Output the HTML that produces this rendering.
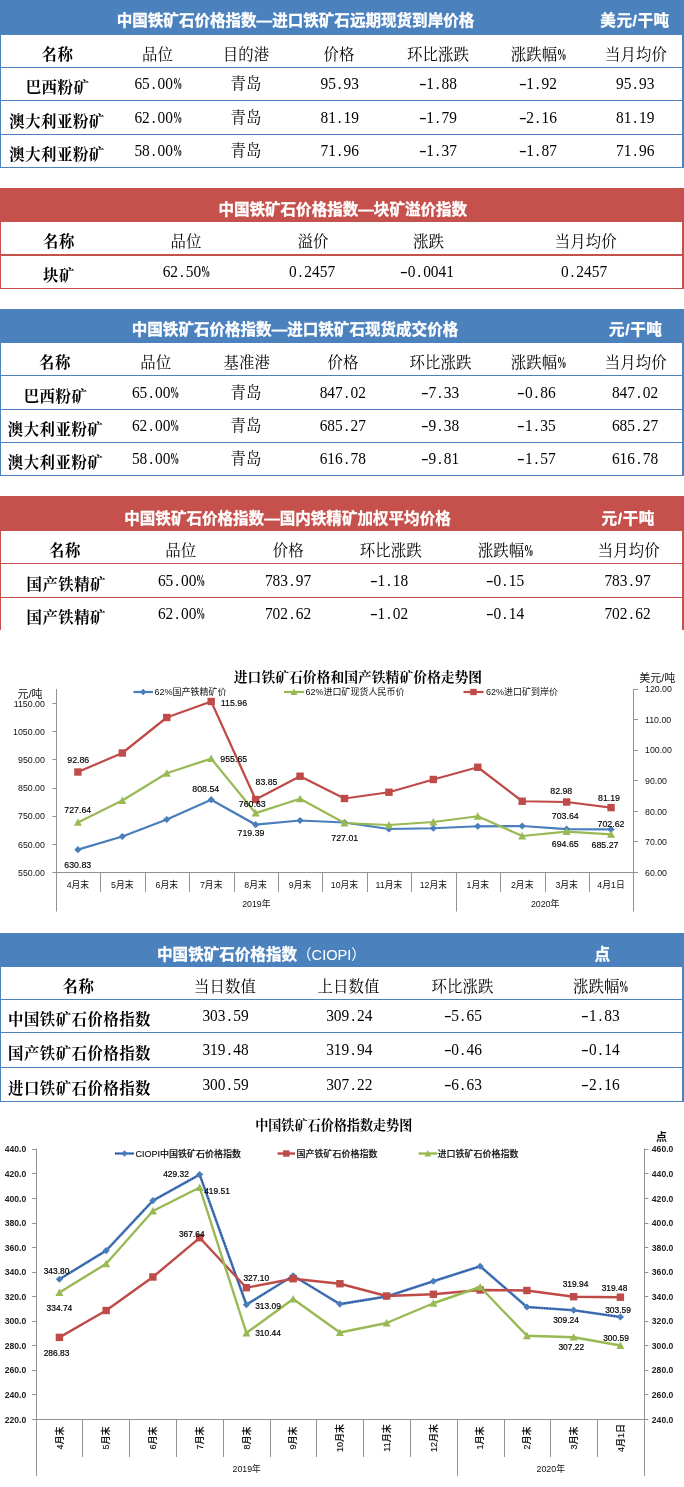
<!DOCTYPE html>
<html lang="zh-CN"><head><meta charset="utf-8"><title>中国铁矿石价格指数</title>
<style>
html,body{margin:0;padding:0;background:#fff}
body{width:684px;height:1487px;position:relative;overflow:hidden}
.hd{position:absolute;left:0;width:684px}
.bl{position:absolute;left:0;width:1px}
.br{position:absolute;left:682px;width:2px}
.hl{position:absolute;left:0;width:684px}
.t{position:absolute;height:24px;line-height:24px;text-align:center;white-space:nowrap;color:#000}
.h{font-family:"Liberation Sans","Noto Sans CJK SC",sans-serif;font-weight:bold;font-size:15.55px;color:#fff;-webkit-text-stroke:0.3px #fff}
.u{letter-spacing:0.6px}
.ci{font-weight:normal;font-size:14.6px;-webkit-text-stroke:0}
.k{font-family:"Liberation Serif","Noto Serif CJK SC",serif;font-size:15.4px;letter-spacing:0.1px}
.kb{font-family:"Liberation Serif","Noto Serif CJK SC",serif;font-size:15.4px;font-weight:bold;letter-spacing:0.5px}
.n{font-family:"Liberation Serif","Noto Serif CJK SC",serif;font-size:15.4px;transform:scaleY(1.14)}
.n i{font-style:normal;display:inline-block;width:7.7px;text-align:center}
.k i.c2{font-style:normal;display:inline-block;width:8px;font-weight:bold;transform:scale(0.62,1.1);transform-origin:0 60%}
.n i.m{transform:scaleX(1.5)}
.n i.c{font-weight:bold;transform:scaleX(0.6);transform-origin:0 50%;text-align:left}
svg{position:absolute;left:0;top:0}
svg text{font-family:"Liberation Sans","Noto Sans CJK SC",sans-serif;fill:#111}
.a1{font-size:8.8px}
.d1{font-size:8.8px;fill:#000;stroke:#000;stroke-width:0.15px}
.u1{font-size:11px}
.lg{font-size:9px}
.ti1{font-family:"Liberation Serif","Noto Serif CJK SC",serif;font-weight:bold;font-size:13.8px;fill:#000}
.ti2{font-family:"Liberation Serif","Noto Serif CJK SC",serif;font-weight:bold;font-size:13.1px;fill:#000}
.a2{font-size:8.6px;font-weight:bold;fill:#222}
.a2r{font-size:9px;font-weight:500;fill:#111;stroke:#111;stroke-width:0.15px}
.d2{font-size:8.4px;fill:#000;stroke:#000;stroke-width:0.2px}
.lg2{font-size:9px;font-weight:500;fill:#111;stroke:#111;stroke-width:0.15px}
.u2{font-size:11px;font-weight:bold}
</style></head>
<body>
<div class="hd" style="top:0px;height:35px;background:#4b82be"></div>
<div class="bl" style="top:35px;height:132px;background:#4b82be"></div>
<div class="br" style="top:35px;height:132px;background:#4b82be"></div>
<div class="hl" style="top:67px;height:1px;background:#4b82be"></div>
<div class="hl" style="top:100px;height:1px;background:#4b82be"></div>
<div class="hl" style="top:134px;height:1px;background:#4b82be"></div>
<div class="hl" style="top:167px;height:1px;background:#4b82be"></div>
<div class="t h" style="left:45.50px;top:9.40px;width:500px">中国铁矿石价格指数—进口铁矿石远期现货到岸价格</div>
<div class="t h u" style="left:555.00px;top:9.40px;width:160px">美元/干吨</div>
<div class="t kb" style="left:-62.50px;top:42.60px;width:240px">名称</div>
<div class="t k" style="left:37.50px;top:42.60px;width:240px">品位</div>
<div class="t k" style="left:126.00px;top:42.60px;width:240px">目的港</div>
<div class="t k" style="left:219.00px;top:42.60px;width:240px">价格</div>
<div class="t k" style="left:318.00px;top:42.60px;width:240px">环比涨跌</div>
<div class="t k" style="left:418.00px;top:42.60px;width:240px">涨跌幅<i class="c2">%</i></div>
<div class="t k" style="left:516.00px;top:42.60px;width:240px">当月均价</div>
<div class="t kb" style="left:-62.50px;top:76.40px;width:240px">巴西粉矿</div>
<div class="t n" style="left:37.50px;top:71.40px;width:240px">65<i class="p">.</i>00<i class="c">%</i></div>
<div class="t k" style="left:126.00px;top:72.20px;width:240px">青岛</div>
<div class="t n" style="left:219.75px;top:71.40px;width:240px">95<i class="p">.</i>93</div>
<div class="t n" style="left:317.75px;top:71.40px;width:240px"><i class="m">-</i>1<i class="p">.</i>88</div>
<div class="t n" style="left:417.75px;top:71.40px;width:240px"><i class="m">-</i>1<i class="p">.</i>92</div>
<div class="t n" style="left:515.25px;top:71.40px;width:240px">95<i class="p">.</i>93</div>
<div class="t kb" style="left:-63.00px;top:109.90px;width:240px">澳大利亚粉矿</div>
<div class="t n" style="left:37.50px;top:104.90px;width:240px">62<i class="p">.</i>00<i class="c">%</i></div>
<div class="t k" style="left:126.00px;top:105.70px;width:240px">青岛</div>
<div class="t n" style="left:219.75px;top:104.90px;width:240px">81<i class="p">.</i>19</div>
<div class="t n" style="left:317.75px;top:104.90px;width:240px"><i class="m">-</i>1<i class="p">.</i>79</div>
<div class="t n" style="left:417.75px;top:104.90px;width:240px"><i class="m">-</i>2<i class="p">.</i>16</div>
<div class="t n" style="left:515.25px;top:104.90px;width:240px">81<i class="p">.</i>19</div>
<div class="t kb" style="left:-63.00px;top:143.40px;width:240px">澳大利亚粉矿</div>
<div class="t n" style="left:37.50px;top:138.40px;width:240px">58<i class="p">.</i>00<i class="c">%</i></div>
<div class="t k" style="left:126.00px;top:139.20px;width:240px">青岛</div>
<div class="t n" style="left:219.75px;top:138.40px;width:240px">71<i class="p">.</i>96</div>
<div class="t n" style="left:317.75px;top:138.40px;width:240px"><i class="m">-</i>1<i class="p">.</i>37</div>
<div class="t n" style="left:417.75px;top:138.40px;width:240px"><i class="m">-</i>1<i class="p">.</i>87</div>
<div class="t n" style="left:515.25px;top:138.40px;width:240px">71<i class="p">.</i>96</div>
<div class="hd" style="top:188px;height:34px;background:#c5504c"></div>
<div class="bl" style="top:222px;height:66px;background:#c5504c"></div>
<div class="br" style="top:222px;height:66px;background:#c5504c"></div>
<div class="hl" style="top:254px;height:2px;background:#c5504c"></div>
<div class="hl" style="top:288px;height:1px;background:#c5504c"></div>
<div class="t h" style="left:92.75px;top:198.30px;width:500px">中国铁矿石价格指数—块矿溢价指数</div>
<div class="t h u" style="left:-80.00px;top:198.30px;width:160px"></div>
<div class="t kb" style="left:-61.00px;top:229.60px;width:240px">名称</div>
<div class="t k" style="left:66.00px;top:229.60px;width:240px">品位</div>
<div class="t k" style="left:193.00px;top:229.60px;width:240px">溢价</div>
<div class="t k" style="left:308.50px;top:229.60px;width:240px">涨跌</div>
<div class="t k" style="left:465.75px;top:229.60px;width:240px">当月均价</div>
<div class="t kb" style="left:-61.00px;top:264.40px;width:240px">块矿</div>
<div class="t n" style="left:65.75px;top:259.40px;width:240px">62<i class="p">.</i>50<i class="c">%</i></div>
<div class="t n" style="left:192.00px;top:259.40px;width:240px">0<i class="p">.</i>2457</div>
<div class="t n" style="left:307.00px;top:259.40px;width:240px"><i class="m">-</i>0<i class="p">.</i>0041</div>
<div class="t n" style="left:464.00px;top:259.40px;width:240px">0<i class="p">.</i>2457</div>
<div class="hd" style="top:309px;height:34px;background:#4b82be"></div>
<div class="bl" style="top:343px;height:132px;background:#4b82be"></div>
<div class="br" style="top:343px;height:132px;background:#4b82be"></div>
<div class="hl" style="top:375px;height:1px;background:#4b82be"></div>
<div class="hl" style="top:409px;height:1px;background:#4b82be"></div>
<div class="hl" style="top:442px;height:1px;background:#4b82be"></div>
<div class="hl" style="top:475px;height:1px;background:#4b82be"></div>
<div class="t h" style="left:45.00px;top:318.00px;width:500px">中国铁矿石价格指数—进口铁矿石现货成交价格</div>
<div class="t h u" style="left:555.75px;top:318.00px;width:160px">元/干吨</div>
<div class="t kb" style="left:-65.00px;top:350.60px;width:240px">名称</div>
<div class="t k" style="left:35.75px;top:350.60px;width:240px">品位</div>
<div class="t k" style="left:126.75px;top:350.60px;width:240px">基准港</div>
<div class="t k" style="left:223.00px;top:350.60px;width:240px">价格</div>
<div class="t k" style="left:320.50px;top:350.60px;width:240px">环比涨跌</div>
<div class="t k" style="left:418.00px;top:350.60px;width:240px">涨跌幅<i class="c2">%</i></div>
<div class="t k" style="left:515.75px;top:350.60px;width:240px">当月均价</div>
<div class="t kb" style="left:-64.50px;top:384.90px;width:240px">巴西粉矿</div>
<div class="t n" style="left:35.00px;top:379.90px;width:240px">65<i class="p">.</i>00<i class="c">%</i></div>
<div class="t k" style="left:126.00px;top:380.70px;width:240px">青岛</div>
<div class="t n" style="left:222.75px;top:379.90px;width:240px">847<i class="p">.</i>02</div>
<div class="t n" style="left:320.00px;top:379.90px;width:240px"><i class="m">-</i>7<i class="p">.</i>33</div>
<div class="t n" style="left:416.50px;top:379.90px;width:240px"><i class="m">-</i>0<i class="p">.</i>86</div>
<div class="t n" style="left:515.00px;top:379.90px;width:240px">847<i class="p">.</i>02</div>
<div class="t kb" style="left:-64.50px;top:418.40px;width:240px">澳大利亚粉矿</div>
<div class="t n" style="left:35.00px;top:413.40px;width:240px">62<i class="p">.</i>00<i class="c">%</i></div>
<div class="t k" style="left:126.00px;top:414.20px;width:240px">青岛</div>
<div class="t n" style="left:222.75px;top:413.40px;width:240px">685<i class="p">.</i>27</div>
<div class="t n" style="left:320.00px;top:413.40px;width:240px"><i class="m">-</i>9<i class="p">.</i>38</div>
<div class="t n" style="left:416.50px;top:413.40px;width:240px"><i class="m">-</i>1<i class="p">.</i>35</div>
<div class="t n" style="left:515.00px;top:413.40px;width:240px">685<i class="p">.</i>27</div>
<div class="t kb" style="left:-64.50px;top:451.40px;width:240px">澳大利亚粉矿</div>
<div class="t n" style="left:35.00px;top:446.40px;width:240px">58<i class="p">.</i>00<i class="c">%</i></div>
<div class="t k" style="left:126.00px;top:447.20px;width:240px">青岛</div>
<div class="t n" style="left:222.75px;top:446.40px;width:240px">616<i class="p">.</i>78</div>
<div class="t n" style="left:320.00px;top:446.40px;width:240px"><i class="m">-</i>9<i class="p">.</i>81</div>
<div class="t n" style="left:416.50px;top:446.40px;width:240px"><i class="m">-</i>1<i class="p">.</i>57</div>
<div class="t n" style="left:515.00px;top:446.40px;width:240px">616<i class="p">.</i>78</div>
<div class="hd" style="top:496px;height:35px;background:#c5504c"></div>
<div class="bl" style="top:531px;height:99px;background:#c5504c"></div>
<div class="br" style="top:531px;height:99px;background:#c5504c"></div>
<div class="hl" style="top:563px;height:1px;background:#c5504c"></div>
<div class="hl" style="top:597px;height:1px;background:#c5504c"></div>
<div class="t h" style="left:37.50px;top:506.50px;width:500px">中国铁矿石价格指数—国内铁精矿加权平均价格</div>
<div class="t h u" style="left:548.25px;top:506.50px;width:160px">元/干吨</div>
<div class="t kb" style="left:-55.00px;top:538.60px;width:240px">名称</div>
<div class="t k" style="left:60.75px;top:538.60px;width:240px">品位</div>
<div class="t k" style="left:168.25px;top:538.60px;width:240px">价格</div>
<div class="t k" style="left:270.75px;top:538.60px;width:240px">环比涨跌</div>
<div class="t k" style="left:385.00px;top:538.60px;width:240px">涨跌幅<i class="c2">%</i></div>
<div class="t k" style="left:508.75px;top:538.60px;width:240px">当月均价</div>
<div class="t kb" style="left:-53.75px;top:572.90px;width:240px">国产铁精矿</div>
<div class="t n" style="left:61.00px;top:567.90px;width:240px">65<i class="p">.</i>00<i class="c">%</i></div>
<div class="t n" style="left:168.00px;top:567.90px;width:240px">783<i class="p">.</i>97</div>
<div class="t n" style="left:269.00px;top:567.90px;width:240px"><i class="m">-</i>1<i class="p">.</i>18</div>
<div class="t n" style="left:385.00px;top:567.90px;width:240px"><i class="m">-</i>0<i class="p">.</i>15</div>
<div class="t n" style="left:507.50px;top:567.90px;width:240px">783<i class="p">.</i>97</div>
<div class="t kb" style="left:-53.75px;top:606.40px;width:240px">国产铁精矿</div>
<div class="t n" style="left:61.00px;top:601.40px;width:240px">62<i class="p">.</i>00<i class="c">%</i></div>
<div class="t n" style="left:168.00px;top:601.40px;width:240px">702<i class="p">.</i>62</div>
<div class="t n" style="left:269.00px;top:601.40px;width:240px"><i class="m">-</i>1<i class="p">.</i>02</div>
<div class="t n" style="left:385.00px;top:601.40px;width:240px"><i class="m">-</i>0<i class="p">.</i>14</div>
<div class="t n" style="left:507.50px;top:601.40px;width:240px">702<i class="p">.</i>62</div>
<div class="hd" style="top:933px;height:34px;background:#4b82be"></div>
<div class="bl" style="top:967px;height:134px;background:#4b82be"></div>
<div class="br" style="top:967px;height:134px;background:#4b82be"></div>
<div class="hl" style="top:999px;height:1px;background:#4b82be"></div>
<div class="hl" style="top:1032px;height:1px;background:#4b82be"></div>
<div class="hl" style="top:1067px;height:1px;background:#4b82be"></div>
<div class="hl" style="top:1101px;height:1px;background:#4b82be"></div>
<div class="t h" style="left:11.50px;top:942.50px;width:500px">中国铁矿石价格指数<span class="ci">（CIOPI）</span></div>
<div class="t h u" style="left:522.50px;top:942.50px;width:160px">点</div>
<div class="t kb" style="left:-41.50px;top:974.60px;width:240px">名称</div>
<div class="t k" style="left:105.00px;top:974.60px;width:240px">当日数值</div>
<div class="t k" style="left:228.50px;top:974.60px;width:240px">上日数值</div>
<div class="t k" style="left:342.50px;top:974.60px;width:240px">环比涨跌</div>
<div class="t k" style="left:480.25px;top:974.60px;width:240px">涨跌幅<i class="c2">%</i></div>
<div class="t kb" style="left:-40.50px;top:1008.40px;width:240px">中国铁矿石价格指数</div>
<div class="t n" style="left:105.50px;top:1003.40px;width:240px">303<i class="p">.</i>59</div>
<div class="t n" style="left:229.25px;top:1003.40px;width:240px">309<i class="p">.</i>24</div>
<div class="t n" style="left:342.75px;top:1003.40px;width:240px"><i class="m">-</i>5<i class="p">.</i>65</div>
<div class="t n" style="left:480.50px;top:1003.40px;width:240px"><i class="m">-</i>1<i class="p">.</i>83</div>
<div class="t kb" style="left:-40.50px;top:1042.40px;width:240px">国产铁矿石价格指数</div>
<div class="t n" style="left:105.50px;top:1037.40px;width:240px">319<i class="p">.</i>48</div>
<div class="t n" style="left:229.25px;top:1037.40px;width:240px">319<i class="p">.</i>94</div>
<div class="t n" style="left:342.75px;top:1037.40px;width:240px"><i class="m">-</i>0<i class="p">.</i>46</div>
<div class="t n" style="left:480.50px;top:1037.40px;width:240px"><i class="m">-</i>0<i class="p">.</i>14</div>
<div class="t kb" style="left:-40.50px;top:1076.90px;width:240px">进口铁矿石价格指数</div>
<div class="t n" style="left:105.50px;top:1071.90px;width:240px">300<i class="p">.</i>59</div>
<div class="t n" style="left:229.25px;top:1071.90px;width:240px">307<i class="p">.</i>22</div>
<div class="t n" style="left:342.75px;top:1071.90px;width:240px"><i class="m">-</i>6<i class="p">.</i>63</div>
<div class="t n" style="left:480.50px;top:1071.90px;width:240px"><i class="m">-</i>2<i class="p">.</i>16</div>
<svg width="684" height="1487" viewBox="0 0 684 1487">
<line x1="56.50" y1="689.00" x2="56.50" y2="911.50" stroke="#929292" stroke-width="1"/>
<line x1="633.50" y1="689.00" x2="633.50" y2="911.50" stroke="#929292" stroke-width="1"/>
<line x1="56.40" y1="872.50" x2="633.99" y2="872.50" stroke="#929292" stroke-width="1"/>
<line x1="100.50" y1="872.50" x2="100.50" y2="892.00" stroke="#929292" stroke-width="1"/>
<line x1="145.50" y1="872.50" x2="145.50" y2="892.00" stroke="#929292" stroke-width="1"/>
<line x1="189.50" y1="872.50" x2="189.50" y2="892.00" stroke="#929292" stroke-width="1"/>
<line x1="234.50" y1="872.50" x2="234.50" y2="892.00" stroke="#929292" stroke-width="1"/>
<line x1="278.50" y1="872.50" x2="278.50" y2="892.00" stroke="#929292" stroke-width="1"/>
<line x1="322.50" y1="872.50" x2="322.50" y2="892.00" stroke="#929292" stroke-width="1"/>
<line x1="367.50" y1="872.50" x2="367.50" y2="892.00" stroke="#929292" stroke-width="1"/>
<line x1="411.50" y1="872.50" x2="411.50" y2="892.00" stroke="#929292" stroke-width="1"/>
<line x1="456.50" y1="872.50" x2="456.50" y2="911.50" stroke="#929292" stroke-width="1"/>
<line x1="500.50" y1="872.50" x2="500.50" y2="892.00" stroke="#929292" stroke-width="1"/>
<line x1="545.50" y1="872.50" x2="545.50" y2="892.00" stroke="#929292" stroke-width="1"/>
<line x1="589.50" y1="872.50" x2="589.50" y2="892.00" stroke="#929292" stroke-width="1"/>
<line x1="52.40" y1="872.50" x2="56.40" y2="872.50" stroke="#929292" stroke-width="1"/>
<text x="44.90" y="875.70" class="a1" text-anchor="end">550.00</text>
<line x1="52.40" y1="844.50" x2="56.40" y2="844.50" stroke="#929292" stroke-width="1"/>
<text x="44.90" y="847.55" class="a1" text-anchor="end">650.00</text>
<line x1="52.40" y1="816.50" x2="56.40" y2="816.50" stroke="#929292" stroke-width="1"/>
<text x="44.90" y="819.40" class="a1" text-anchor="end">750.00</text>
<line x1="52.40" y1="788.50" x2="56.40" y2="788.50" stroke="#929292" stroke-width="1"/>
<text x="44.90" y="791.25" class="a1" text-anchor="end">850.00</text>
<line x1="52.40" y1="759.50" x2="56.40" y2="759.50" stroke="#929292" stroke-width="1"/>
<text x="44.90" y="763.10" class="a1" text-anchor="end">950.00</text>
<line x1="52.40" y1="731.50" x2="56.40" y2="731.50" stroke="#929292" stroke-width="1"/>
<text x="44.90" y="734.95" class="a1" text-anchor="end">1050.00</text>
<line x1="52.40" y1="703.50" x2="56.40" y2="703.50" stroke="#929292" stroke-width="1"/>
<text x="44.90" y="706.80" class="a1" text-anchor="end">1150.00</text>
<line x1="633.99" y1="872.50" x2="637.99" y2="872.50" stroke="#929292" stroke-width="1"/>
<text x="644.99" y="875.70" class="a1" text-anchor="start">60.00</text>
<line x1="633.99" y1="841.50" x2="637.99" y2="841.50" stroke="#929292" stroke-width="1"/>
<text x="644.99" y="845.12" class="a1" text-anchor="start">70.00</text>
<line x1="633.99" y1="811.50" x2="637.99" y2="811.50" stroke="#929292" stroke-width="1"/>
<text x="644.99" y="814.54" class="a1" text-anchor="start">80.00</text>
<line x1="633.99" y1="780.50" x2="637.99" y2="780.50" stroke="#929292" stroke-width="1"/>
<text x="644.99" y="783.96" class="a1" text-anchor="start">90.00</text>
<line x1="633.99" y1="750.50" x2="637.99" y2="750.50" stroke="#929292" stroke-width="1"/>
<text x="644.99" y="753.38" class="a1" text-anchor="start">100.00</text>
<line x1="633.99" y1="719.50" x2="637.99" y2="719.50" stroke="#929292" stroke-width="1"/>
<text x="644.99" y="722.80" class="a1" text-anchor="start">110.00</text>
<line x1="633.99" y1="689.50" x2="637.99" y2="689.50" stroke="#929292" stroke-width="1"/>
<text x="644.99" y="692.22" class="a1" text-anchor="start">120.00</text>
<text x="77.90" y="888.30" class="a1" text-anchor="middle">4月末</text>
<text x="122.33" y="888.30" class="a1" text-anchor="middle">5月末</text>
<text x="166.76" y="888.30" class="a1" text-anchor="middle">6月末</text>
<text x="211.19" y="888.30" class="a1" text-anchor="middle">7月末</text>
<text x="255.62" y="888.30" class="a1" text-anchor="middle">8月末</text>
<text x="300.05" y="888.30" class="a1" text-anchor="middle">9月末</text>
<text x="344.48" y="888.30" class="a1" text-anchor="middle">10月末</text>
<text x="388.91" y="888.30" class="a1" text-anchor="middle">11月末</text>
<text x="433.34" y="888.30" class="a1" text-anchor="middle">12月末</text>
<text x="477.77" y="888.30" class="a1" text-anchor="middle">1月末</text>
<text x="522.20" y="888.30" class="a1" text-anchor="middle">2月末</text>
<text x="566.63" y="888.30" class="a1" text-anchor="middle">3月末</text>
<text x="611.06" y="888.30" class="a1" text-anchor="middle">4月1日</text>
<text x="256.33" y="907.30" class="a1" text-anchor="middle">2019年</text>
<text x="545.13" y="907.30" class="a1" text-anchor="middle">2020年</text>
<text x="30.00" y="697.50" class="u1" text-anchor="middle">元/吨</text>
<text x="657.30" y="682.30" class="u1" text-anchor="middle">美元/吨</text>
<text x="358.00" y="682.00" class="ti1" text-anchor="middle">进口铁矿石价格和国产铁精矿价格走势图</text>
<polyline fill="none" stroke="#4a7ebb" stroke-width="2.25" stroke-linejoin="round" stroke-linecap="round" points="77.90,849.70 122.33,836.50 166.76,819.50 211.19,799.70 255.62,824.70 300.05,820.50 344.48,822.50 388.91,829.00 433.34,828.25 477.77,826.25 522.20,826.00 566.63,829.10 611.06,829.40"/>
<polygon points="77.90,846.10 81.50,849.70 77.90,853.30 74.30,849.70" fill="#4a7ebb"/>
<polygon points="122.33,832.90 125.93,836.50 122.33,840.10 118.73,836.50" fill="#4a7ebb"/>
<polygon points="166.76,815.90 170.36,819.50 166.76,823.10 163.16,819.50" fill="#4a7ebb"/>
<polygon points="211.19,796.10 214.79,799.70 211.19,803.30 207.59,799.70" fill="#4a7ebb"/>
<polygon points="255.62,821.10 259.22,824.70 255.62,828.30 252.02,824.70" fill="#4a7ebb"/>
<polygon points="300.05,816.90 303.65,820.50 300.05,824.10 296.45,820.50" fill="#4a7ebb"/>
<polygon points="344.48,818.90 348.08,822.50 344.48,826.10 340.88,822.50" fill="#4a7ebb"/>
<polygon points="388.91,825.40 392.51,829.00 388.91,832.60 385.31,829.00" fill="#4a7ebb"/>
<polygon points="433.34,824.65 436.94,828.25 433.34,831.85 429.74,828.25" fill="#4a7ebb"/>
<polygon points="477.77,822.65 481.37,826.25 477.77,829.85 474.17,826.25" fill="#4a7ebb"/>
<polygon points="522.20,822.40 525.80,826.00 522.20,829.60 518.60,826.00" fill="#4a7ebb"/>
<polygon points="566.63,825.50 570.23,829.10 566.63,832.70 563.03,829.10" fill="#4a7ebb"/>
<polygon points="611.06,825.80 614.66,829.40 611.06,833.00 607.46,829.40" fill="#4a7ebb"/>
<polyline fill="none" stroke="#98b954" stroke-width="2.25" stroke-linejoin="round" stroke-linecap="round" points="77.90,822.40 122.33,800.50 166.76,773.25 211.19,758.60 255.62,813.10 300.05,798.75 344.48,823.00 388.91,825.00 433.34,822.00 477.77,816.25 522.20,836.00 566.63,831.70 611.06,834.30"/>
<polygon points="77.90,818.40 81.90,825.80 73.90,825.80" fill="#98b954"/>
<polygon points="122.33,796.50 126.33,803.90 118.33,803.90" fill="#98b954"/>
<polygon points="166.76,769.25 170.76,776.65 162.76,776.65" fill="#98b954"/>
<polygon points="211.19,754.60 215.19,762.00 207.19,762.00" fill="#98b954"/>
<polygon points="255.62,809.10 259.62,816.50 251.62,816.50" fill="#98b954"/>
<polygon points="300.05,794.75 304.05,802.15 296.05,802.15" fill="#98b954"/>
<polygon points="344.48,819.00 348.48,826.40 340.48,826.40" fill="#98b954"/>
<polygon points="388.91,821.00 392.91,828.40 384.91,828.40" fill="#98b954"/>
<polygon points="433.34,818.00 437.34,825.40 429.34,825.40" fill="#98b954"/>
<polygon points="477.77,812.25 481.77,819.65 473.77,819.65" fill="#98b954"/>
<polygon points="522.20,832.00 526.20,839.40 518.20,839.40" fill="#98b954"/>
<polygon points="566.63,827.70 570.63,835.10 562.63,835.10" fill="#98b954"/>
<polygon points="611.06,830.30 615.06,837.70 607.06,837.70" fill="#98b954"/>
<polyline fill="none" stroke="#be4b48" stroke-width="2.25" stroke-linejoin="round" stroke-linecap="round" points="77.90,772.00 122.33,753.00 166.76,717.50 211.19,701.50 255.62,799.50 300.05,776.25 344.48,798.50 388.91,792.25 433.34,779.50 477.77,767.25 522.20,801.25 566.63,802.00 611.06,807.60"/>
<rect x="74.20" y="768.30" width="7.40" height="7.40" fill="#be4b48"/>
<rect x="118.63" y="749.30" width="7.40" height="7.40" fill="#be4b48"/>
<rect x="163.06" y="713.80" width="7.40" height="7.40" fill="#be4b48"/>
<rect x="207.49" y="697.80" width="7.40" height="7.40" fill="#be4b48"/>
<rect x="251.92" y="795.80" width="7.40" height="7.40" fill="#be4b48"/>
<rect x="296.35" y="772.55" width="7.40" height="7.40" fill="#be4b48"/>
<rect x="340.78" y="794.80" width="7.40" height="7.40" fill="#be4b48"/>
<rect x="385.21" y="788.55" width="7.40" height="7.40" fill="#be4b48"/>
<rect x="429.64" y="775.80" width="7.40" height="7.40" fill="#be4b48"/>
<rect x="474.07" y="763.55" width="7.40" height="7.40" fill="#be4b48"/>
<rect x="518.50" y="797.55" width="7.40" height="7.40" fill="#be4b48"/>
<rect x="562.93" y="798.30" width="7.40" height="7.40" fill="#be4b48"/>
<rect x="607.36" y="803.90" width="7.40" height="7.40" fill="#be4b48"/>
<line x1="133.50" y1="692.00" x2="153.00" y2="692.00" stroke="#4a7ebb" stroke-width="2.25"/>
<polygon points="143.20,688.80 146.40,692.00 143.20,695.20 140.00,692.00" fill="#4a7ebb"/>
<text x="154.50" y="695.30" class="lg" text-anchor="start">62%国产铁精矿价</text>
<line x1="284.00" y1="692.00" x2="304.00" y2="692.00" stroke="#98b954" stroke-width="2.25"/>
<polygon points="294.00,688.50 297.50,694.98 290.50,694.98" fill="#98b954"/>
<text x="305.50" y="695.30" class="lg" text-anchor="start">62%进口矿现货人民币价</text>
<line x1="463.50" y1="692.00" x2="483.50" y2="692.00" stroke="#be4b48" stroke-width="2.25"/>
<rect x="470.30" y="688.80" width="6.40" height="6.40" fill="#be4b48"/>
<text x="486.00" y="695.30" class="lg" text-anchor="start">62%进口矿到岸价</text>
<text x="78.25" y="763.20" class="d1" text-anchor="middle">92.86</text>
<text x="77.75" y="813.20" class="d1" text-anchor="middle">727.64</text>
<text x="77.75" y="867.70" class="d1" text-anchor="middle">630.83</text>
<text x="205.75" y="791.95" class="d1" text-anchor="middle">808.54</text>
<text x="234.00" y="706.20" class="d1" text-anchor="middle">115.96</text>
<text x="233.75" y="762.20" class="d1" text-anchor="middle">955.65</text>
<text x="266.50" y="784.95" class="d1" text-anchor="middle">83.85</text>
<text x="252.25" y="806.95" class="d1" text-anchor="middle">760.63</text>
<text x="251.00" y="835.70" class="d1" text-anchor="middle">719.39</text>
<text x="344.75" y="840.70" class="d1" text-anchor="middle">727.01</text>
<text x="561.25" y="793.70" class="d1" text-anchor="middle">82.98</text>
<text x="609.00" y="800.70" class="d1" text-anchor="middle">81.19</text>
<text x="565.25" y="818.95" class="d1" text-anchor="middle">703.64</text>
<text x="611.00" y="826.95" class="d1" text-anchor="middle">702.62</text>
<text x="565.25" y="847.45" class="d1" text-anchor="middle">694.65</text>
<text x="605.00" y="848.20" class="d1" text-anchor="middle">685.27</text>
<line x1="36.50" y1="1148.50" x2="36.50" y2="1476.00" stroke="#929292" stroke-width="1"/>
<line x1="644.50" y1="1148.50" x2="644.50" y2="1476.00" stroke="#929292" stroke-width="1"/>
<line x1="36.20" y1="1419.50" x2="644.34" y2="1419.50" stroke="#929292" stroke-width="1"/>
<line x1="82.50" y1="1419.40" x2="82.50" y2="1457.00" stroke="#929292" stroke-width="1"/>
<line x1="129.50" y1="1419.40" x2="129.50" y2="1457.00" stroke="#929292" stroke-width="1"/>
<line x1="176.50" y1="1419.40" x2="176.50" y2="1457.00" stroke="#929292" stroke-width="1"/>
<line x1="223.50" y1="1419.40" x2="223.50" y2="1457.00" stroke="#929292" stroke-width="1"/>
<line x1="270.50" y1="1419.40" x2="270.50" y2="1457.00" stroke="#929292" stroke-width="1"/>
<line x1="316.50" y1="1419.40" x2="316.50" y2="1457.00" stroke="#929292" stroke-width="1"/>
<line x1="363.50" y1="1419.40" x2="363.50" y2="1457.00" stroke="#929292" stroke-width="1"/>
<line x1="410.50" y1="1419.40" x2="410.50" y2="1457.00" stroke="#929292" stroke-width="1"/>
<line x1="457.50" y1="1419.40" x2="457.50" y2="1476.00" stroke="#929292" stroke-width="1"/>
<line x1="504.50" y1="1419.40" x2="504.50" y2="1457.00" stroke="#929292" stroke-width="1"/>
<line x1="550.50" y1="1419.40" x2="550.50" y2="1457.00" stroke="#929292" stroke-width="1"/>
<line x1="597.50" y1="1419.40" x2="597.50" y2="1457.00" stroke="#929292" stroke-width="1"/>
<line x1="32.20" y1="1419.50" x2="36.20" y2="1419.50" stroke="#929292" stroke-width="1"/>
<text x="26.20" y="1422.50" class="a2" text-anchor="end">220.0</text>
<line x1="644.34" y1="1419.50" x2="648.34" y2="1419.50" stroke="#929292" stroke-width="1"/>
<text x="651.84" y="1422.50" class="a2" text-anchor="start">240.0</text>
<line x1="32.20" y1="1394.50" x2="36.20" y2="1394.50" stroke="#929292" stroke-width="1"/>
<text x="26.20" y="1397.95" class="a2" text-anchor="end">240.0</text>
<line x1="644.34" y1="1394.50" x2="648.34" y2="1394.50" stroke="#929292" stroke-width="1"/>
<text x="651.84" y="1397.95" class="a2" text-anchor="start">260.0</text>
<line x1="32.20" y1="1370.50" x2="36.20" y2="1370.50" stroke="#929292" stroke-width="1"/>
<text x="26.20" y="1373.40" class="a2" text-anchor="end">260.0</text>
<line x1="644.34" y1="1370.50" x2="648.34" y2="1370.50" stroke="#929292" stroke-width="1"/>
<text x="651.84" y="1373.40" class="a2" text-anchor="start">280.0</text>
<line x1="32.20" y1="1345.50" x2="36.20" y2="1345.50" stroke="#929292" stroke-width="1"/>
<text x="26.20" y="1348.85" class="a2" text-anchor="end">280.0</text>
<line x1="644.34" y1="1345.50" x2="648.34" y2="1345.50" stroke="#929292" stroke-width="1"/>
<text x="651.84" y="1348.85" class="a2" text-anchor="start">300.0</text>
<line x1="32.20" y1="1321.50" x2="36.20" y2="1321.50" stroke="#929292" stroke-width="1"/>
<text x="26.20" y="1324.30" class="a2" text-anchor="end">300.0</text>
<line x1="644.34" y1="1321.50" x2="648.34" y2="1321.50" stroke="#929292" stroke-width="1"/>
<text x="651.84" y="1324.30" class="a2" text-anchor="start">320.0</text>
<line x1="32.20" y1="1296.50" x2="36.20" y2="1296.50" stroke="#929292" stroke-width="1"/>
<text x="26.20" y="1299.75" class="a2" text-anchor="end">320.0</text>
<line x1="644.34" y1="1296.50" x2="648.34" y2="1296.50" stroke="#929292" stroke-width="1"/>
<text x="651.84" y="1299.75" class="a2" text-anchor="start">340.0</text>
<line x1="32.20" y1="1272.50" x2="36.20" y2="1272.50" stroke="#929292" stroke-width="1"/>
<text x="26.20" y="1275.20" class="a2" text-anchor="end">340.0</text>
<line x1="644.34" y1="1272.50" x2="648.34" y2="1272.50" stroke="#929292" stroke-width="1"/>
<text x="651.84" y="1275.20" class="a2" text-anchor="start">360.0</text>
<line x1="32.20" y1="1247.50" x2="36.20" y2="1247.50" stroke="#929292" stroke-width="1"/>
<text x="26.20" y="1250.65" class="a2" text-anchor="end">360.0</text>
<line x1="644.34" y1="1247.50" x2="648.34" y2="1247.50" stroke="#929292" stroke-width="1"/>
<text x="651.84" y="1250.65" class="a2" text-anchor="start">380.0</text>
<line x1="32.20" y1="1223.50" x2="36.20" y2="1223.50" stroke="#929292" stroke-width="1"/>
<text x="26.20" y="1226.10" class="a2" text-anchor="end">380.0</text>
<line x1="644.34" y1="1223.50" x2="648.34" y2="1223.50" stroke="#929292" stroke-width="1"/>
<text x="651.84" y="1226.10" class="a2" text-anchor="start">400.0</text>
<line x1="32.20" y1="1198.50" x2="36.20" y2="1198.50" stroke="#929292" stroke-width="1"/>
<text x="26.20" y="1201.55" class="a2" text-anchor="end">400.0</text>
<line x1="644.34" y1="1198.50" x2="648.34" y2="1198.50" stroke="#929292" stroke-width="1"/>
<text x="651.84" y="1201.55" class="a2" text-anchor="start">420.0</text>
<line x1="32.20" y1="1173.50" x2="36.20" y2="1173.50" stroke="#929292" stroke-width="1"/>
<text x="26.20" y="1177.00" class="a2" text-anchor="end">420.0</text>
<line x1="644.34" y1="1173.50" x2="648.34" y2="1173.50" stroke="#929292" stroke-width="1"/>
<text x="651.84" y="1177.00" class="a2" text-anchor="start">440.0</text>
<line x1="32.20" y1="1149.50" x2="36.20" y2="1149.50" stroke="#929292" stroke-width="1"/>
<text x="26.20" y="1152.45" class="a2" text-anchor="end">440.0</text>
<line x1="644.34" y1="1149.50" x2="648.34" y2="1149.50" stroke="#929292" stroke-width="1"/>
<text x="651.84" y="1152.45" class="a2" text-anchor="start">460.0</text>
<text x="59.40" y="1438.00" class="a2r" text-anchor="middle" transform="rotate(-90 59.40 1438)" dy="3.2">4月末</text>
<text x="106.15" y="1438.00" class="a2r" text-anchor="middle" transform="rotate(-90 106.15 1438)" dy="3.2">5月末</text>
<text x="152.90" y="1438.00" class="a2r" text-anchor="middle" transform="rotate(-90 152.90 1438)" dy="3.2">6月末</text>
<text x="199.65" y="1438.00" class="a2r" text-anchor="middle" transform="rotate(-90 199.65 1438)" dy="3.2">7月末</text>
<text x="246.40" y="1438.00" class="a2r" text-anchor="middle" transform="rotate(-90 246.40 1438)" dy="3.2">8月末</text>
<text x="293.15" y="1438.00" class="a2r" text-anchor="middle" transform="rotate(-90 293.15 1438)" dy="3.2">9月末</text>
<text x="339.90" y="1438.00" class="a2r" text-anchor="middle" transform="rotate(-90 339.90 1438)" dy="3.2">10月末</text>
<text x="386.65" y="1438.00" class="a2r" text-anchor="middle" transform="rotate(-90 386.65 1438)" dy="3.2">11月末</text>
<text x="433.40" y="1438.00" class="a2r" text-anchor="middle" transform="rotate(-90 433.40 1438)" dy="3.2">12月末</text>
<text x="480.15" y="1438.00" class="a2r" text-anchor="middle" transform="rotate(-90 480.15 1438)" dy="3.2">1月末</text>
<text x="526.90" y="1438.00" class="a2r" text-anchor="middle" transform="rotate(-90 526.90 1438)" dy="3.2">2月末</text>
<text x="573.65" y="1438.00" class="a2r" text-anchor="middle" transform="rotate(-90 573.65 1438)" dy="3.2">3月末</text>
<text x="620.40" y="1438.00" class="a2r" text-anchor="middle" transform="rotate(-90 620.40 1438)" dy="3.2">4月1日</text>
<text x="246.71" y="1472.30" class="a1" text-anchor="middle">2019年</text>
<text x="550.78" y="1472.30" class="a1" text-anchor="middle">2020年</text>
<text x="661.50" y="1140.50" class="u2" text-anchor="middle">点</text>
<text x="333.75" y="1129.70" class="ti2" text-anchor="middle">中国铁矿石价格指数走势图</text>
<polyline fill="none" stroke="#4a7ebb" stroke-width="2.6" stroke-linejoin="round" stroke-linecap="round" points="59.40,1279.25 106.15,1250.60 152.90,1200.60 199.65,1174.60 246.40,1304.70 293.15,1275.75 339.90,1304.10 386.65,1296.50 433.40,1281.25 480.15,1266.25 526.90,1307.00 573.65,1310.20 620.40,1317.00"/>
<polyline fill="none" stroke="#1f2a8c" stroke-width="1" stroke-dasharray="1.2 1.6" points="59.40,1279.25 106.15,1250.60 152.90,1200.60 199.65,1174.60 246.40,1304.70 293.15,1275.75 339.90,1304.10 386.65,1296.50 433.40,1281.25 480.15,1266.25 526.90,1307.00 573.65,1310.20 620.40,1317.00"/>
<polygon points="59.40,1275.65 63.00,1279.25 59.40,1282.85 55.80,1279.25" fill="#4a7ebb"/>
<polygon points="106.15,1247.00 109.75,1250.60 106.15,1254.20 102.55,1250.60" fill="#4a7ebb"/>
<polygon points="152.90,1197.00 156.50,1200.60 152.90,1204.20 149.30,1200.60" fill="#4a7ebb"/>
<polygon points="199.65,1171.00 203.25,1174.60 199.65,1178.20 196.05,1174.60" fill="#4a7ebb"/>
<polygon points="246.40,1301.10 250.00,1304.70 246.40,1308.30 242.80,1304.70" fill="#4a7ebb"/>
<polygon points="293.15,1272.15 296.75,1275.75 293.15,1279.35 289.55,1275.75" fill="#4a7ebb"/>
<polygon points="339.90,1300.50 343.50,1304.10 339.90,1307.70 336.30,1304.10" fill="#4a7ebb"/>
<polygon points="386.65,1292.90 390.25,1296.50 386.65,1300.10 383.05,1296.50" fill="#4a7ebb"/>
<polygon points="433.40,1277.65 437.00,1281.25 433.40,1284.85 429.80,1281.25" fill="#4a7ebb"/>
<polygon points="480.15,1262.65 483.75,1266.25 480.15,1269.85 476.55,1266.25" fill="#4a7ebb"/>
<polygon points="526.90,1303.40 530.50,1307.00 526.90,1310.60 523.30,1307.00" fill="#4a7ebb"/>
<polygon points="573.65,1306.60 577.25,1310.20 573.65,1313.80 570.05,1310.20" fill="#4a7ebb"/>
<polygon points="620.40,1313.40 624.00,1317.00 620.40,1320.60 616.80,1317.00" fill="#4a7ebb"/>
<polyline fill="none" stroke="#be4b48" stroke-width="2.4" stroke-linejoin="round" stroke-linecap="round" points="59.40,1337.40 106.15,1310.50 152.90,1277.00 199.65,1237.80 246.40,1287.70 293.15,1278.75 339.90,1283.75 386.65,1296.00 433.40,1294.25 480.15,1290.00 526.90,1290.50 573.65,1296.70 620.40,1297.20"/>
<rect x="55.70" y="1333.70" width="7.40" height="7.40" fill="#be4b48"/>
<rect x="102.45" y="1306.80" width="7.40" height="7.40" fill="#be4b48"/>
<rect x="149.20" y="1273.30" width="7.40" height="7.40" fill="#be4b48"/>
<rect x="195.95" y="1234.10" width="7.40" height="7.40" fill="#be4b48"/>
<rect x="242.70" y="1284.00" width="7.40" height="7.40" fill="#be4b48"/>
<rect x="289.45" y="1275.05" width="7.40" height="7.40" fill="#be4b48"/>
<rect x="336.20" y="1280.05" width="7.40" height="7.40" fill="#be4b48"/>
<rect x="382.95" y="1292.30" width="7.40" height="7.40" fill="#be4b48"/>
<rect x="429.70" y="1290.55" width="7.40" height="7.40" fill="#be4b48"/>
<rect x="476.45" y="1286.30" width="7.40" height="7.40" fill="#be4b48"/>
<rect x="523.20" y="1286.80" width="7.40" height="7.40" fill="#be4b48"/>
<rect x="569.95" y="1293.00" width="7.40" height="7.40" fill="#be4b48"/>
<rect x="616.70" y="1293.50" width="7.40" height="7.40" fill="#be4b48"/>
<polyline fill="none" stroke="#98b954" stroke-width="2.4" stroke-linejoin="round" stroke-linecap="round" points="59.40,1292.50 106.15,1263.75 152.90,1211.00 199.65,1187.50 246.40,1333.00 293.15,1299.00 339.90,1332.50 386.65,1323.00 433.40,1303.25 480.15,1287.00 526.90,1335.75 573.65,1337.20 620.40,1345.50"/>
<polygon points="59.40,1288.50 63.40,1295.90 55.40,1295.90" fill="#98b954"/>
<polygon points="106.15,1259.75 110.15,1267.15 102.15,1267.15" fill="#98b954"/>
<polygon points="152.90,1207.00 156.90,1214.40 148.90,1214.40" fill="#98b954"/>
<polygon points="199.65,1183.50 203.65,1190.90 195.65,1190.90" fill="#98b954"/>
<polygon points="246.40,1329.00 250.40,1336.40 242.40,1336.40" fill="#98b954"/>
<polygon points="293.15,1295.00 297.15,1302.40 289.15,1302.40" fill="#98b954"/>
<polygon points="339.90,1328.50 343.90,1335.90 335.90,1335.90" fill="#98b954"/>
<polygon points="386.65,1319.00 390.65,1326.40 382.65,1326.40" fill="#98b954"/>
<polygon points="433.40,1299.25 437.40,1306.65 429.40,1306.65" fill="#98b954"/>
<polygon points="480.15,1283.00 484.15,1290.40 476.15,1290.40" fill="#98b954"/>
<polygon points="526.90,1331.75 530.90,1339.15 522.90,1339.15" fill="#98b954"/>
<polygon points="573.65,1333.20 577.65,1340.60 569.65,1340.60" fill="#98b954"/>
<polygon points="620.40,1341.50 624.40,1348.90 616.40,1348.90" fill="#98b954"/>
<line x1="115.00" y1="1153.50" x2="134.00" y2="1153.50" stroke="#4a7ebb" stroke-width="2.4"/>
<line x1="115" y1="1153.5" x2="134" y2="1153.5" stroke="#1f2a8c" stroke-width="1" stroke-dasharray="1.2 1.6"/>
<polygon points="124.50,1150.30 127.70,1153.50 124.50,1156.70 121.30,1153.50" fill="#4a7ebb"/>
<text x="135.50" y="1156.80" class="lg2" text-anchor="start">CIOPI中国铁矿石价格指数</text>
<line x1="277.50" y1="1153.50" x2="295.00" y2="1153.50" stroke="#be4b48" stroke-width="2.4"/>
<rect x="283.10" y="1150.30" width="6.40" height="6.40" fill="#be4b48"/>
<text x="296.50" y="1156.80" class="lg2" text-anchor="start">国产铁矿石价格指数</text>
<line x1="418.50" y1="1153.50" x2="437.00" y2="1153.50" stroke="#98b954" stroke-width="2.4"/>
<polygon points="427.80,1150.00 431.30,1156.47 424.30,1156.47" fill="#98b954"/>
<text x="437.50" y="1156.80" class="lg2" text-anchor="start">进口铁矿石价格指数</text>
<text x="56.50" y="1273.50" class="d2" text-anchor="middle">343.80</text>
<text x="59.40" y="1311.25" class="d2" text-anchor="middle">334.74</text>
<text x="56.50" y="1356.25" class="d2" text-anchor="middle">286.83</text>
<text x="176.00" y="1176.75" class="d2" text-anchor="middle">429.32</text>
<text x="217.00" y="1193.75" class="d2" text-anchor="middle">419.51</text>
<text x="191.75" y="1237.25" class="d2" text-anchor="middle">367.64</text>
<text x="256.25" y="1281.25" class="d2" text-anchor="middle">327.10</text>
<text x="268.00" y="1309.25" class="d2" text-anchor="middle">313.09</text>
<text x="268.00" y="1336.25" class="d2" text-anchor="middle">310.44</text>
<text x="575.50" y="1287.00" class="d2" text-anchor="middle">319.94</text>
<text x="614.50" y="1290.50" class="d2" text-anchor="middle">319.48</text>
<text x="618.00" y="1313.00" class="d2" text-anchor="middle">303.59</text>
<text x="566.00" y="1322.50" class="d2" text-anchor="middle">309.24</text>
<text x="616.00" y="1341.00" class="d2" text-anchor="middle">300.59</text>
<text x="571.25" y="1350.00" class="d2" text-anchor="middle">307.22</text>
</svg>
</body></html>
